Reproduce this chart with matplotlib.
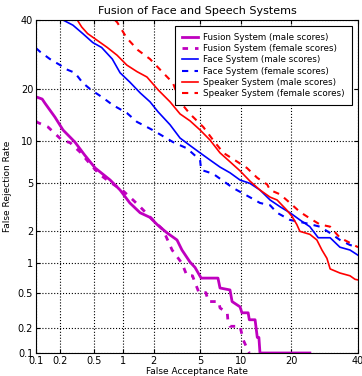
import math
import numpy as np
import matplotlib
matplotlib.use("Agg")
import matplotlib.pyplot as plt
from matplotlib.ticker import NullLocator

# DET curves, values in percent (false acceptance, false rejection)
fusion_male_far = [0.1, 0.12, 0.13, 0.173, 0.217, 0.30, 0.39, 0.51, 0.74, 0.94, 1.18, 1.49, 1.85, 2.15,
                   2.64, 3.23, 3.56, 4.15, 4.56, 5.1, 6.85, 7.09, 8.36, 8.65, 9.8, 10.1, 11.1, 11.3,
                   12.3, 12.7, 13.0, 13.2, 24.9]
fusion_male_frr = [18.2, 17.7, 16.8, 14.0, 11.7, 9.8, 8.0, 6.5, 5.3, 4.44, 3.5, 2.9, 2.65, 2.3,
                   1.94, 1.67, 1.345, 1.03, 0.91, 0.71, 0.71, 0.56, 0.534, 0.40, 0.35, 0.30, 0.30, 0.25,
                   0.25, 0.155, 0.155, 0.1, 0.1]

fusion_female_far = [0.1, 0.105, 0.142, 0.21, 0.264, 0.345, 0.47, 0.577, 0.74, 0.985, 1.27, 1.49, 1.97,
                     2.44, 2.93, 3.56, 3.92, 4.35, 4.6, 4.9, 5.55, 5.8, 6.95, 7.09, 8.0, 8.1, 8.36, 9.8,
                     10.3, 10.9, 11.3]
fusion_female_frr = [13.2, 13.0, 12.2, 10.1, 9.7, 8.4, 6.7, 5.8, 5.1, 4.44, 3.7, 3.25, 2.52,
                     2.06, 1.345, 1.0, 0.75, 0.75, 0.62, 0.5, 0.5, 0.40, 0.40, 0.34, 0.30, 0.235, 0.21, 0.21,
                     0.145, 0.115, 0.1]

face_male_far = [0.217, 0.285, 0.37, 0.48, 0.60, 0.78, 0.94, 1.18, 1.49, 1.85, 2.2, 2.81, 3.43, 4.15,
                 5.0, 5.97, 7.09, 8.36, 9.8, 11.4, 13.2, 15.2, 17.4, 19.7, 22.2, 24.9, 27.3, 30.9,
                 34.0, 37.3, 40.0]
face_male_frr = [40.0, 38.3, 35.6, 32.8, 31.3, 27.9, 24.1, 21.7, 19.1, 17.1, 15.0, 12.6, 10.4, 9.3,
                 8.3, 7.41, 6.6, 6.0, 5.3, 5.0, 4.44, 3.7, 3.25, 2.9, 2.52, 2.2, 1.75, 1.75,
                 1.43, 1.345, 1.2]

face_female_far = [0.1, 0.113, 0.15, 0.2, 0.24, 0.30, 0.37, 0.46, 0.62, 0.79, 1.1, 1.39, 1.73, 1.95,
                   2.98, 3.92, 5.0, 5.1, 6.3, 8.8, 11.8, 13.2, 15.2, 16.7, 19.7, 24.1, 27.8, 30.9,
                   34.0, 37.3, 40.0]
face_female_frr = [31.1, 30.0, 27.9, 26.2, 25.0, 24.1, 21.5, 19.8, 18.0, 16.4, 14.8, 13.1, 12.2, 11.7,
                   9.8, 8.9, 7.4, 6.3, 5.9, 4.6, 3.8, 3.5, 3.35, 2.9, 2.52, 2.35, 2.2, 1.93,
                   1.67, 1.5, 1.43]

speaker_male_far = [0.32, 0.36, 0.42, 0.53, 0.69, 0.875, 1.1, 1.39, 1.73, 2.2, 2.81, 3.43, 4.15, 5.0,
                    5.97, 7.09, 8.36, 9.8, 11.4, 13.2, 15.2, 16.7, 18.9, 20.2, 21.4, 22.2, 24.9, 26.9,
                    28.4, 29.9, 30.9, 34.0, 37.3, 39.0, 40.0]
speaker_male_frr = [40.0, 37.7, 35.6, 33.6, 31.3, 29.0, 26.2, 24.4, 23.0, 19.8, 17.1, 14.6, 13.3, 11.7,
                    10.1, 8.3, 7.2, 6.2, 5.2, 4.44, 3.9, 3.7, 3.06, 2.7, 2.3, 2.0, 1.88, 1.67,
                    1.345, 1.12, 0.88, 0.8, 0.75, 0.69, 0.68]

speaker_female_far = [0.83, 0.875, 1.1, 1.42, 1.85, 2.44, 2.98, 3.43, 4.15, 5.3, 6.3, 7.5, 9.4, 10.9,
                      12.7, 14.6, 15.2, 17.4, 19.7, 22.2, 24.9, 27.8, 30.9, 34.0, 37.3, 40.0]
speaker_female_frr = [40.0, 39.3, 34.2, 30.5, 27.9, 24.1, 21.5, 17.1, 14.6, 12.2, 10.1, 8.3, 7.2, 6.5,
                      5.5, 4.9, 4.44, 4.1, 3.5, 2.95, 2.6, 2.3, 2.2, 1.75, 1.57, 1.43]

tick_vals = [0.1, 0.2, 0.5, 1, 2, 5, 10, 20, 40]
tick_labels = ["0.1", "0.2", "0.5", "1", "2", "5", "10", "20", "40"]

# normal deviate (probit) scale, Acklam's approximation
A = [-3.969683028665376e+01, 2.209460984245205e+02, -2.759285104469687e+02,
     1.383577518672690e+02, -3.066479806614716e+01, 2.506628277459239e+00]
B = [-5.447609879822406e+01, 1.615858368580409e+02, -1.556989798598866e+02,
     6.680131188771972e+01, -1.328068155288572e+01]
C = [-7.784894002430293e-03, -3.223964580411365e-01, -2.400758277161838e+00,
     -2.549732539343734e+00, 4.374664141464968e+00, 2.938163982698783e+00]
D = [7.784695709041462e-03, 3.224671290700398e-01, 2.445134137142996e+00,
     3.754408661907416e+00]


def ppf(p):
    p = np.clip(np.asarray(p, dtype=float), 1e-9, 1 - 1e-9)
    q = p - 0.5
    r = q * q
    mid = (((((A[0]*r+A[1])*r+A[2])*r+A[3])*r+A[4])*r+A[5])*q / \
          (((((B[0]*r+B[1])*r+B[2])*r+B[3])*r+B[4])*r+1)
    ql = np.sqrt(-2 * np.log(np.minimum(p, 1 - p)))
    tail = (((((C[0]*ql+C[1])*ql+C[2])*ql+C[3])*ql+C[4])*ql+C[5]) / \
           ((((D[0]*ql+D[1])*ql+D[2])*ql+D[3])*ql+1)
    tail = np.where(p < 0.5, tail, -tail)
    return np.where((p < 0.02425) | (p > 1 - 0.02425), tail, mid)


_erf = np.vectorize(math.erf)


def forward(x):
    return ppf(np.asarray(x, dtype=float) / 100.0)


def inverse(z):
    z = np.asarray(z, dtype=float)
    return 100.0 * 0.5 * (1 + _erf(z / math.sqrt(2)))


fig = plt.figure(figsize=(3.62, 3.76), dpi=100)
ax = fig.add_axes([36/362, 1 - 353/376, 322/362, 333/376])
ax.set_xscale("function", functions=(forward, inverse))
ax.set_yscale("function", functions=(forward, inverse))

ax.plot(fusion_male_far, fusion_male_frr, color="#bf00bf", lw=2.0, label="Fusion System (male scores)")
ax.plot(fusion_female_far, fusion_female_frr, color="#bf00bf", lw=2.0, ls=(0, (2, 2.5)),
        label="Fusion System (female scores)")
ax.plot(face_male_far, face_male_frr, color="blue", lw=1.2, label="Face System (male scores)")
ax.plot(face_female_far, face_female_frr, color="blue", lw=1.5, ls=(0, (3, 3)),
        label="Face System (female scores)")
ax.plot(speaker_male_far, speaker_male_frr, color="red", lw=1.2, label="Speaker System (male scores)")
ax.plot(speaker_female_far, speaker_female_frr, color="red", lw=1.5, ls=(0, (3, 3)),
        label="Speaker System (female scores)")

ax.set_xlim(0.1, 40)
ax.set_ylim(0.1, 40)
ax.set_xticks(tick_vals)
ax.set_xticklabels(tick_labels)
ax.set_yticks(tick_vals)
ax.set_yticklabels(tick_labels)
ax.xaxis.set_minor_locator(NullLocator())
ax.yaxis.set_minor_locator(NullLocator())
ax.tick_params(direction="in", top=True, right=True, labelsize=7, length=3, pad=2)
ax.grid(True, linestyle=":", color="black", lw=0.8)

ax.set_title("Fusion of Face and Speech Systems", fontsize=8, pad=4)
ax.set_xlabel("False Acceptance Rate", fontsize=6.5, labelpad=1)
ax.set_ylabel("False Rejection Rate", fontsize=6.5, labelpad=4)

leg = ax.legend(loc="upper right", fontsize=6.3, fancybox=False, framealpha=1,
                edgecolor="black", handlelength=1.8, handletextpad=0.6, labelspacing=0.25,
                borderaxespad=0.7, borderpad=0.8)
leg.get_frame().set_linewidth(0.8)

fig.savefig("out.png", dpi=100)
